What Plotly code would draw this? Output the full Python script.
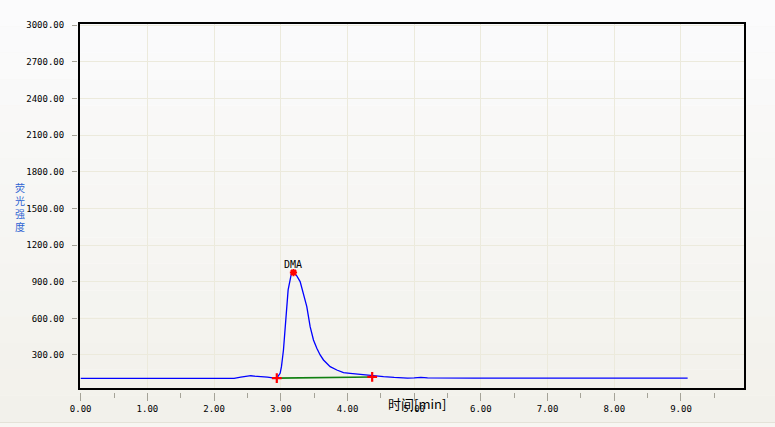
import plotly.graph_objects as go

# ---------------- data ----------------
time_min = [
    0.00, 0.10, 0.20, 0.30, 0.40, 0.50, 0.60, 0.70, 0.80, 0.90,
    1.00, 1.10, 1.20, 1.30, 1.40, 1.50, 1.60, 1.70, 1.80, 1.90,
    2.00, 2.10, 2.20, 2.30, 2.40, 2.50, 2.55, 2.60, 2.70, 2.80, 2.88, 2.94,
    2.99, 3.01, 3.04, 3.06, 3.09, 3.11, 3.14, 3.16, 3.19, 3.24, 3.29, 3.34,
    3.39, 3.44, 3.49, 3.54, 3.59, 3.64, 3.74, 3.84, 3.94, 4.04, 4.14, 4.24,
    4.39, 4.54, 4.70, 4.80, 4.90,
    5.00, 5.10, 5.20, 5.30, 5.40, 5.50, 5.60, 5.70, 5.80, 5.90,
    6.00, 6.10, 6.20, 6.30, 6.40, 6.50, 6.60, 6.70, 6.80, 6.90,
    7.00, 7.10, 7.20, 7.30, 7.40, 7.50, 7.60, 7.70, 7.80, 7.90,
    8.00, 8.10, 8.20, 8.30, 8.40, 8.50, 8.60, 8.70, 8.80, 8.90,
    9.00, 9.10,
]
intensity = [
    109, 109, 108, 104, 104, 107, 106, 108, 104, 104,
    106, 104, 107, 107, 106, 108, 104, 108, 106, 104,
    106, 106, 107, 109, 118, 126, 130, 127, 124, 118, 112, 110,
    150, 204, 341, 505, 669, 833, 915, 970, 975, 948, 901, 806,
    696, 532, 423, 355, 300, 259, 204, 177, 155, 150, 144, 134,
    125, 122, 116, 112, 111,
    112, 116, 112, 111, 112, 110, 111, 111, 112, 110,
    111, 110, 113, 114, 113, 112, 111, 110, 111, 112,
    112, 109, 111, 111, 111, 111, 111, 109, 112, 110,
    111, 111, 111, 109, 111, 110, 111, 110, 111, 109,
    111, 111,
]

peak_name = ["DMA"]
peak_time = [3.19]
peak_height = [975]
peak_start = [2.94, 110]
peak_end = [4.37, 120]

x_ticks = [0, 1, 2, 3, 4, 5, 6, 7, 8, 9, 10]
x_tick_text = ["0.00", "1.00", "2.00", "3.00", "4.00", "5.00",
               "6.00", "7.00", "8.00", "9.00", "10.00"]
y_ticks = [300, 600, 900, 1200, 1500, 1800, 2100, 2400, 2700, 3000]
y_tick_text = ["300.00", "600.00", "900.00", "1200.00", "1500.00",
               "1800.00", "2100.00", "2400.00", "2700.00", "3000.00"]

x_title = "时间[min]"
y_title = "荧<br>光<br>强<br>度"

# ---------------- layout geometry ----------------
W, H = 775, 427
ML, MR, MT, MB = 77, 30, 23, 35
PW, PH = W - ML - MR, H - MT - MB


def px(xp):
    return (xp - ML) / PW


def py(yp):
    return (H - MB - yp) / PH


x_dom = [px(80), px(744)]
y_dom = [py(388), py(24)]
x_range = [-0.0105, 9.945]
y_range = [29.5, 3011]

mono = "DejaVu Sans Mono"
grid_col = "#ECEADC"
tick_col = "#A5A398"

fig = go.Figure()

fig.add_trace(go.Scatter(
    x=time_min, y=intensity, mode="lines",
    line=dict(color="#0000FF", width=1.3), hoverinfo="skip", showlegend=False))

fig.add_trace(go.Scatter(
    x=[peak_start[0], peak_end[0]], y=[peak_start[1], peak_end[1]], mode="lines",
    line=dict(color="#108010", width=1.6), showlegend=False))

fig.add_trace(go.Scatter(
    x=[peak_start[0], peak_end[0]], y=[peak_start[1], peak_end[1]], mode="markers",
    marker=dict(symbol="cross-thin", size=7, line=dict(color="#FF0000", width=2.2)),
    showlegend=False))

fig.add_trace(go.Scatter(
    x=peak_time, y=peak_height, mode="markers",
    marker=dict(symbol="asterisk", size=6, line=dict(color="#FF0000", width=2)),
    showlegend=False))

# invisible trace carrying the tick-only overlay axes
fig.add_trace(go.Scatter(x=[x_range[0]], y=[y_range[0]], xaxis="x2", yaxis="y2",
                         mode="markers", marker=dict(opacity=0), showlegend=False,
                         hoverinfo="skip"))

for name, t, h in zip(peak_name, peak_time, peak_height):
    fig.add_annotation(x=t, y=h, xref="x", yref="y", text=name, showarrow=False,
                       yshift=8, font=dict(family=mono, size=10, color="#000000"))

# background gradient (paper)
shapes = []
n = 16
c0 = (251, 251, 252)
c1 = (242, 241, 235)
for i in range(n):
    f = i / (n - 1)
    col = "rgb(%d,%d,%d)" % tuple(round(a + (b - a) * f) for a, b in zip(c0, c1))
    y0p = i * 422 / n
    y1p = (i + 1) * 422 / n
    shapes.append(dict(type="rect", xref="paper", yref="paper", layer="below",
                       x0=px(0), x1=px(W), y0=py(y1p), y1=py(y0p),
                       fillcolor=col, line=dict(width=0)))
shapes.append(dict(type="rect", xref="paper", yref="paper", layer="below",
                   x0=px(0), x1=px(W), y0=py(H), y1=py(422),
                   fillcolor="#F7F6F2", line=dict(width=0)))
shapes.append(dict(type="line", xref="paper", yref="paper", layer="below",
                   x0=px(0), x1=px(W), y0=py(422.5), y1=py(422.5),
                   line=dict(color="#E4E2D8", width=1)))

fig.add_annotation(x=px(12.5), y=py(206.5), xref="paper", yref="paper", text=y_title,
                   showarrow=False, align="center",
                   font=dict(family="Noto Sans CJK SC", size=10, color="#2D63D2"))

fig.add_annotation(x=px(417), y=py(415), xref="paper", yref="paper", text=x_title,
                   showarrow=False, font=dict(family="Noto Sans CJK SC", size=13,
                                              color="#000000"))

fig.update_layout(
    width=W, height=H,
    margin=dict(l=ML, r=MR, t=MT, b=MB, pad=0),
    paper_bgcolor="#F6F5F1", plot_bgcolor="#FFFFFF",
    shapes=shapes,
    hovermode=False,
    xaxis=dict(domain=x_dom, range=x_range, showgrid=True, gridcolor=grid_col,
               gridwidth=1, tickvals=x_ticks, showticklabels=False, ticks="",
               zeroline=False, showline=True, mirror=True, linecolor="#000000",
               linewidth=2, anchor="y"),
    yaxis=dict(domain=y_dom, range=y_range, showgrid=True, gridcolor=grid_col,
               gridwidth=1, tickvals=y_ticks, showticklabels=False, ticks="",
               zeroline=False, showline=True, mirror=True, linecolor="#000000",
               linewidth=2, anchor="x"),
    xaxis2=dict(domain=x_dom, range=x_range, overlaying="x", anchor="free",
                position=0, side="bottom", showgrid=False, zeroline=False,
                showline=False, tickvals=x_ticks, ticktext=x_tick_text,
                ticks="outside", ticklen=8, tickwidth=1, tickcolor=tick_col,
                tickfont=dict(family=mono, size=9, color="#000000"),
                minor=dict(dtick=0.5, tick0=0, ticks="outside", ticklen=5,
                           tickwidth=1, tickcolor=tick_col, showgrid=False)),
    yaxis2=dict(domain=y_dom, range=y_range, overlaying="y", anchor="free",
                position=0, side="left", showgrid=False, zeroline=False,
                showline=False, tickvals=y_ticks, ticktext=y_tick_text,
                ticks="outside", ticklen=5, tickwidth=1, tickcolor=tick_col,
                ticklabelstandoff=6,
                tickfont=dict(family=mono, size=9, color="#000000")),
)

fig.write_html("out.html",
               config={"displayModeBar": False},
               post_script="document.body.style.margin='0px';"
                           "document.body.style.overflow='hidden';")
